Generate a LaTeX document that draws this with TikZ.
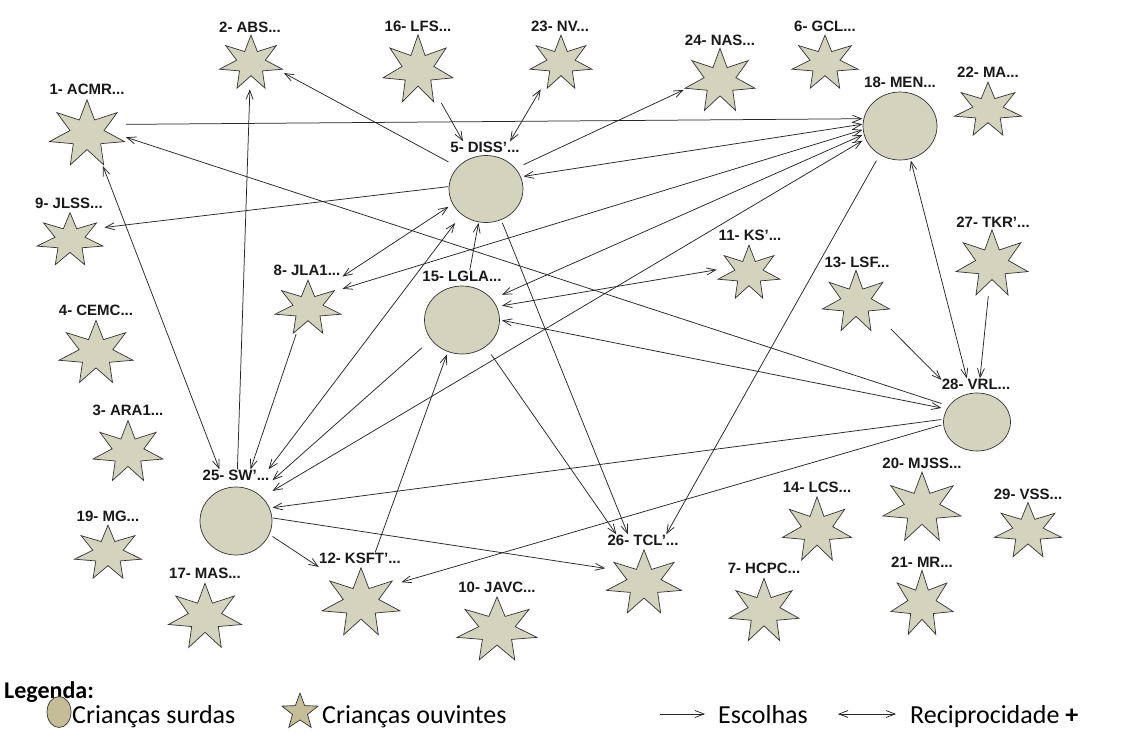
\documentclass[tikz,border=0pt]{standalone}
\usepackage{fontspec}
\setmainfont{Liberation Sans}
\newfontfamily\legfont{Carlito}
\usetikzlibrary{shapes.geometric,arrows.meta,fit}
\definecolor{nodefill}{RGB}{212,212,190}
\definecolor{legfill}{RGB}{196,189,151}
\tikzset{
  pstar/.style 2 args={star, star points=7, star point ratio=2.2, draw=black!80, fill=nodefill,
    line width=0.7pt, inner sep=0pt, minimum size={2*#2/1.9}, xscale={#1*1.9/(1.95*#2)}},
  pcirc/.style 2 args={ellipse, draw=black!80, fill=nodefill, line width=0.7pt, inner sep=0pt,
    minimum width=#1, minimum height=#2},
  lbl/.style={font=\bfseries\fontsize{15}{15}\selectfont, inner sep=0pt, text=black!90},
  pbox/.style={inner sep=0pt, draw=none},
  arr/.style={draw=black!85, line width=0.75pt, -{Straight Barb[length=9pt,width=7pt]}},
  darr/.style={draw=black!85, line width=0.75pt, {Straight Barb[length=9pt,width=7pt]}-{Straight Barb[length=9pt,width=7pt]}},
  legt/.style={font=\legfont\fontsize{26}{26}\selectfont, inner sep=0pt, anchor=base west},
}
\newcommand{\starp}[7]{% id, cx, cy, W, H, lx, ly
  \node[pstar={#4}{#5}] (s#1) at (#2,#3) {};
  \node[lbl] (l#1) at (#6,#7) {\labeltext};
  \node[pbox, fit=(l#1)(s#1.outer point 1)(s#1.outer point 3)(s#1.outer point 4)(s#1.outer point 5)(s#1.outer point 6)] (p#1) {};
}
\newcommand{\circp}[7]{% id, cx, cy, W, H, lx, ly
  \node[pcirc={#4}{#5}] (s#1) at (#2,#3) {};
  \node[lbl] (l#1) at (#6,#7) {\labeltext};
  \node[pbox, fit=(l#1)(s#1)] (p#1) {};
}
\begin{document}
\begin{tikzpicture}[x=1pt,y=-1pt]
\fill[white] (0,0) rectangle (1135,742);
\useasboundingbox (0,0) rectangle (1135,742);
% stars (hearing children)
\def\labeltext{1- ACMR...}\starp{1}{87}{134}{75}{65}{87}{89}
\def\labeltext{2- ABS...}\starp{2}{251}{63}{63}{53}{250}{27}
\def\labeltext{16- LFS...}\starp{16}{418}{70}{70}{67}{418}{26}
\def\labeltext{23- NV...}\starp{23}{561}{63}{62}{53}{560}{26}
\def\labeltext{24- NAS...}\starp{24}{720}{81}{70}{62}{720}{40}
\def\labeltext{6- GCL...}\starp{6}{825}{63}{66}{53}{825}{26}
\def\labeltext{22- MA...}\starp{22}{988}{110}{67}{53}{988}{72}
\def\labeltext{9- JLSS...}\starp{9}{70}{240}{66}{52}{69}{203}
\def\labeltext{4- CEMC...}\starp{4}{96}{353}{74}{62}{96}{310}
\def\labeltext{3- ARA1...}\starp{3}{128}{452}{70}{60}{128}{410}
\def\labeltext{8- JLA1...}\starp{8}{308}{308}{66}{53}{307}{270}
\def\labeltext{19- MG...}\starp{19}{108}{553}{67}{53}{108}{516}
\def\labeltext{17- MAS...}\starp{17}{205}{617}{73}{64}{205}{573}
\def\labeltext{12- KSFT’...}\starp{12}{361}{603}{78}{67}{360}{558}
\def\labeltext{11- KS’...}\starp{11}{749}{273}{62}{53}{750}{235}
\def\labeltext{13- LSF...}\starp{13}{856}{302}{67}{60}{857}{262}
\def\labeltext{27- TKR’...}\starp{27}{992}{264}{72}{65}{993}{222}
\def\labeltext{20- MJSS...}\starp{20}{922}{508}{78}{68}{922}{463}
\def\labeltext{29- VSS...}\starp{29}{1028}{531}{67}{54}{1028}{494}
\def\labeltext{14- LCS...}\starp{14}{817}{530}{69}{63}{817}{487}
\def\labeltext{21- MR...}\starp{21}{922}{604}{62}{64}{922}{562}
\def\labeltext{7- HCPC...}\starp{7}{764}{611}{70}{62}{764}{568}
\def\labeltext{26- TCL’...}\starp{26}{644}{583}{75}{63}{643}{540}
\def\labeltext{10- JAVC...}\starp{10}{497}{630}{80}{63}{497}{587}
% circles (deaf children)
\def\labeltext{18- MEN...}\circp{18}{900}{126}{74}{68}{900}{82}
\def\labeltext{5- DISS’...}\circp{5}{486}{189}{74}{67}{485}{147}
\def\labeltext{15- LGLA...}\circp{15}{462}{320}{75}{68}{462}{276}
\def\labeltext{25- SW’...}\circp{25}{236}{521}{72}{68}{236}{475}
\def\labeltext{28- VRL...}\circp{28}{977}{422}{67}{58}{976}{384}
% connectors
\draw[arr] (p1) -- (p18);
\draw[arr] (p28) -- (p1);
\draw[darr] (p1) -- (p25);
\draw[arr] (p25) -- (p2);
\draw[arr] (p5) -- (p2);
\draw[arr] (p16) -- (p5);
\draw[darr] (p23) -- (p5);
\draw[arr] (p5) -- (p24);
\draw[darr] (p5) -- (p18);
\draw[arr] (p5) -- (p9);
\draw[darr] (p8) -- (p5);
\draw[darr] (p18) -- (p8);
\draw[darr] (p18) -- (p15);
\draw[darr] (p18) -- (p25);
\draw[darr] (p15) -- (p11);
\draw[darr] (p28) -- (p15);
\draw[arr] (p15) -- (p5);
\draw[darr] (p5) -- (p25);
\draw[arr] (p15) -- (p25);
\draw[arr] (p8) -- (p25);
\draw[arr] (p28) -- (p25);
\draw[arr] (p25) -- (p26);
\draw[arr] (p25) -- (p12);
\draw[arr] (p12) -- (p15);
\draw[arr] (p28) -- (p12);
\draw[arr] (p15) -- (p26);
\draw[arr] (p5) -- (p26);
\draw[arr] (p18) -- (p26);
\draw[arr] (p13) -- (p28);
\draw[darr] (p18) -- (p28);
\draw[arr] (p27) -- (p28);
% legend
\node[font=\legfont\bfseries\fontsize{24}{24}\selectfont, inner sep=0pt, anchor=base west] (leg) at (4,698) {Legenda:};
\node[ellipse, draw=black!80, fill=legfill, line width=0.7pt, minimum width=24, minimum height=31, inner sep=0pt] (legc) at (59,712) {};
\node[legt] (legct) at (72,723) {Crianças surdas};
\node[star, star points=5, star point ratio=2.4, draw=black!80, fill=legfill, line width=0.7pt, minimum size=38, inner sep=0pt] (legs) at (300,712) {};
\node[legt] (legst) at (322,723) {Crianças ouvintes};
\coordinate (la1) at (660,714);
\coordinate (la2) at (705,714);
\draw[arr] (la1) -- (la2);
\node[legt] (legat) at (718,723) {Escolhas};
\coordinate (lb1) at (838,714);
\coordinate (lb2) at (896,714);
\draw[darr] (lb1) -- (lb2);
\node[legt] (legbt) at (910,723) {Reciprocidade \textbf{+}};
\end{tikzpicture}
\end{document}
